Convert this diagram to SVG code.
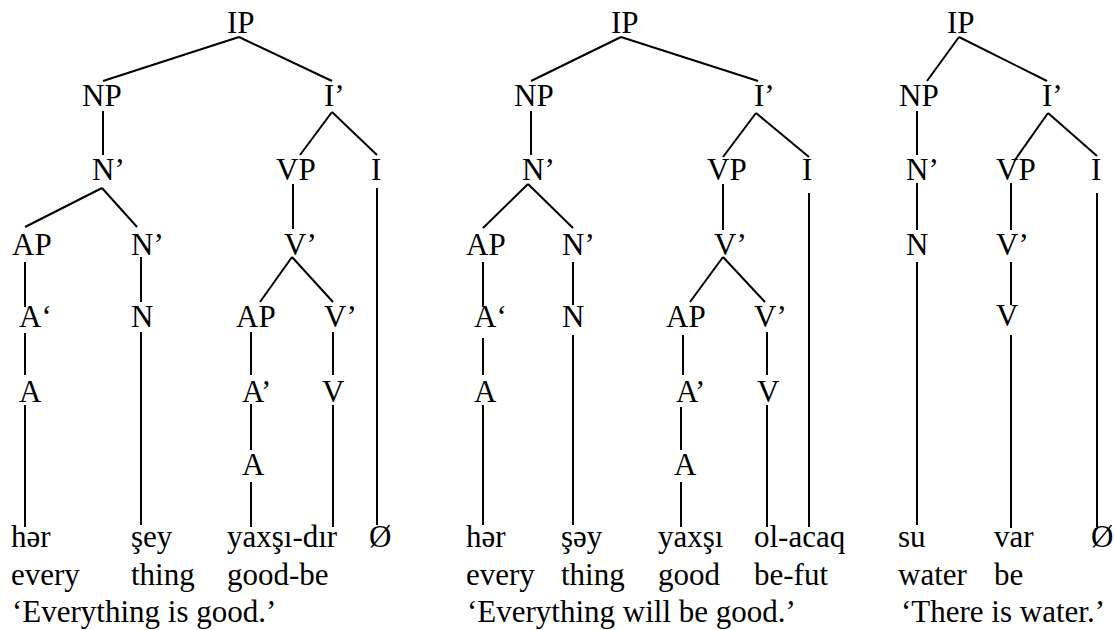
<svg xmlns="http://www.w3.org/2000/svg" width="1114" height="630" viewBox="0 0 1114 630" font-family="'Liberation Serif', 'Times New Roman', serif" font-size="31">
  <rect width="1114" height="630" fill="#fff"/>

  <!-- Tree 1: her sey yaxsi-dir -->
  <g id="tree1">
    <g id="tree1-edges" stroke="#000" stroke-width="2">
      <line x1="239" y1="37" x2="103" y2="81"/>
      <line x1="239" y1="37" x2="332" y2="81"/>
      <line x1="103" y1="111" x2="103" y2="155"/>
      <line x1="332" y1="112" x2="300" y2="155"/>
      <line x1="332" y1="112" x2="377" y2="155"/>
      <line x1="102" y1="188" x2="25" y2="227"/>
      <line x1="102" y1="188" x2="137" y2="227"/>
      <line x1="293" y1="184" x2="293" y2="229"/>
      <line x1="377" y1="188" x2="377" y2="525"/>
      <line x1="25" y1="262" x2="25" y2="307"/>
      <line x1="141" y1="257" x2="141" y2="302"/>
      <line x1="292" y1="257" x2="260" y2="302"/>
      <line x1="292" y1="257" x2="333" y2="302"/>
      <line x1="25" y1="333" x2="25" y2="375"/>
      <line x1="25" y1="405" x2="25" y2="527"/>
      <line x1="141" y1="332" x2="141" y2="525"/>
      <line x1="251" y1="332" x2="251" y2="375"/>
      <line x1="251" y1="404" x2="251" y2="450"/>
      <line x1="251" y1="482" x2="251" y2="527"/>
      <line x1="333" y1="332" x2="333" y2="375"/>
      <line x1="333" y1="405" x2="333" y2="527"/>
    </g>
    <g id="t1-IP"><text x="227" y="33">IP</text></g>
    <g id="t1-NP"><text x="82" y="106">NP</text></g>
    <g id="t1-I1"><text x="324" y="106">I’</text></g>
    <g id="t1-N1"><text x="92" y="180">N’</text></g>
    <g id="t1-VP"><text x="276" y="180">VP</text></g>
    <g id="t1-I"><text x="371" y="180">I</text></g>
    <g id="t1-AP"><text x="12" y="255">AP</text></g>
    <g id="t1-N1b"><text x="131" y="255">N’</text></g>
    <g id="t1-V1"><text x="284" y="255">V’</text></g>
    <g id="t1-A1"><text x="19" y="327">A‘</text></g>
    <g id="t1-N"><text x="131" y="327">N</text></g>
    <g id="t1-AP2"><text x="236" y="327">AP</text></g>
    <g id="t1-V1b"><text x="324" y="327">V’</text></g>
    <g id="t1-A"><text x="19" y="402">A</text></g>
    <g id="t1-A1b"><text x="242" y="402">A’</text></g>
    <g id="t1-V"><text x="322" y="402">V</text></g>
    <g id="t1-A2"><text x="242" y="475">A</text></g>
    <g id="t1-words">
      <text x="11" y="547">hər</text>
      <text x="131" y="547">şey</text>
      <text x="227" y="547">yaxşı-dır</text>
      <text x="369" y="547">Ø</text>
      <text x="11" y="585">every</text>
      <text x="131" y="585">thing</text>
      <text x="227" y="585">good-be</text>
      <text x="12" y="622">‘Everything is good.’</text>
    </g>
  </g>

  <!-- Tree 2: her sey yaxsi ol-acaq -->
  <g id="tree2">
    <g id="tree2-edges" stroke="#000" stroke-width="2">
      <line x1="621" y1="37" x2="531" y2="81"/>
      <line x1="621" y1="37" x2="758" y2="81"/>
      <line x1="531" y1="111" x2="531" y2="155"/>
      <line x1="756" y1="113" x2="723" y2="157"/>
      <line x1="756" y1="113" x2="809" y2="157"/>
      <line x1="528" y1="184" x2="483" y2="228"/>
      <line x1="528" y1="184" x2="573" y2="228"/>
      <line x1="723" y1="184" x2="723" y2="230"/>
      <line x1="809" y1="193" x2="809" y2="527"/>
      <line x1="483" y1="262" x2="483" y2="307"/>
      <line x1="573" y1="262" x2="573" y2="305"/>
      <line x1="723" y1="257" x2="690" y2="302"/>
      <line x1="723" y1="257" x2="765" y2="302"/>
      <line x1="483" y1="338" x2="483" y2="375"/>
      <line x1="483" y1="405" x2="483" y2="525"/>
      <line x1="573" y1="335" x2="573" y2="525"/>
      <line x1="683" y1="335" x2="683" y2="375"/>
      <line x1="681" y1="407" x2="681" y2="450"/>
      <line x1="681" y1="482" x2="681" y2="527"/>
      <line x1="767" y1="332" x2="767" y2="375"/>
      <line x1="767" y1="405" x2="767" y2="527"/>
    </g>
    <g id="t2-IP"><text x="611" y="33">IP</text></g>
    <g id="t2-NP"><text x="514" y="106">NP</text></g>
    <g id="t2-I1"><text x="754" y="106">I’</text></g>
    <g id="t2-N1"><text x="522" y="180">N’</text></g>
    <g id="t2-VP"><text x="707" y="180">VP</text></g>
    <g id="t2-I"><text x="802" y="180">I</text></g>
    <g id="t2-AP"><text x="466" y="255">AP</text></g>
    <g id="t2-N1b"><text x="562" y="255">N’</text></g>
    <g id="t2-V1"><text x="714" y="255">V’</text></g>
    <g id="t2-A1"><text x="474" y="327">A‘</text></g>
    <g id="t2-N"><text x="562" y="327">N</text></g>
    <g id="t2-AP2"><text x="666" y="327">AP</text></g>
    <g id="t2-V1b"><text x="754" y="327">V’</text></g>
    <g id="t2-A"><text x="474" y="402">A</text></g>
    <g id="t2-A1b"><text x="676" y="402">A’</text></g>
    <g id="t2-V"><text x="757" y="402">V</text></g>
    <g id="t2-A2"><text x="674" y="475">A</text></g>
    <g id="t2-words">
      <text x="466" y="547">hər</text>
      <text x="561" y="547">şəy</text>
      <text x="658" y="547">yaxşı</text>
      <text x="754" y="547">ol-acaq</text>
      <text x="466" y="585">every</text>
      <text x="561" y="585">thing</text>
      <text x="658" y="585">good</text>
      <text x="754" y="585">be-fut</text>
      <text x="467" y="622">‘Everything will be good.’</text>
    </g>
  </g>

  <!-- Tree 3: su var -->
  <g id="tree3">
    <g id="tree3-edges" stroke="#000" stroke-width="2">
      <line x1="959" y1="37" x2="927" y2="81"/>
      <line x1="959" y1="37" x2="1047" y2="81"/>
      <line x1="917" y1="111" x2="917" y2="155"/>
      <line x1="1048" y1="113" x2="1015" y2="160"/>
      <line x1="1048" y1="113" x2="1097" y2="156"/>
      <line x1="917" y1="183" x2="917" y2="230"/>
      <line x1="1011" y1="183" x2="1011" y2="230"/>
      <line x1="1097" y1="193" x2="1097" y2="527"/>
      <line x1="917" y1="262" x2="917" y2="525"/>
      <line x1="1011" y1="262" x2="1011" y2="305"/>
      <line x1="1011" y1="335" x2="1011" y2="528"/>
    </g>
    <g id="t3-IP"><text x="947" y="33">IP</text></g>
    <g id="t3-NP"><text x="899" y="106">NP</text></g>
    <g id="t3-I1"><text x="1042" y="106">I’</text></g>
    <g id="t3-N1"><text x="906" y="180">N’</text></g>
    <g id="t3-VP"><text x="996" y="180">VP</text></g>
    <g id="t3-I"><text x="1091" y="180">I</text></g>
    <g id="t3-N"><text x="906" y="255">N</text></g>
    <g id="t3-V1"><text x="996" y="255">V’</text></g>
    <g id="t3-V"><text x="996" y="326">V</text></g>
    <g id="t3-words">
      <text x="898" y="547">su</text>
      <text x="994" y="547">var</text>
      <text x="1091" y="547">Ø</text>
      <text x="898" y="585">water</text>
      <text x="994" y="585">be</text>
      <text x="901" y="622">‘There is water.’</text>
    </g>
  </g>
</svg>
